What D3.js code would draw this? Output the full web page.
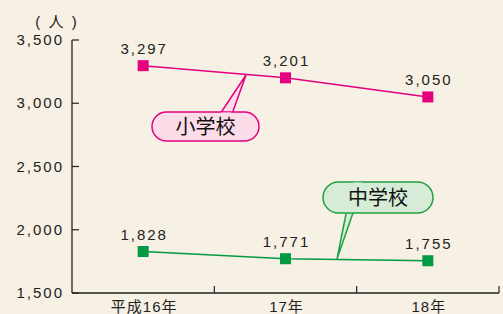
<!DOCTYPE html>
<html>
<head>
<meta charset="utf-8">
<script src="https://cdn.jsdelivr.net/npm/d3@7"></script>
<style>
  body { margin: 0; background: #f7f0e4; }
  svg { display: block; font-family: "Liberation Sans", "Noto Sans CJK JP", sans-serif; }
  .num { font-size: 15px; letter-spacing: 2px; fill: #222; }
</style>
</head>
<body>
<svg id="chart" width="503" height="314"></svg>
<script>
// data
const years = ['平成16年', '17年', '18年'];
const elementary = [3297, 3201, 3050];
const juniorHigh = [1828, 1771, 1755];
const yTicks = [1500, 2000, 2500, 3000, 3500];

const svg = d3.select('#chart');
const plotLeft = 72, plotRight = 499, plotTop = 40, plotBottom = 293;

const x = d3.scaleBand().domain(years).range([plotLeft, plotRight]);
const y = d3.scaleLinear().domain([1500, 3500]).range([plotBottom, plotTop]);
const cx = d => x(d) + x.bandwidth() / 2;
const fmt = d3.format(',');

// axes
svg.append('line').attr('x1', plotLeft).attr('x2', plotLeft).attr('y1', plotTop).attr('y2', plotBottom)
    .attr('stroke', '#222').attr('stroke-width', 1.3);
svg.append('line').attr('x1', plotLeft).attr('x2', plotRight).attr('y1', plotBottom).attr('y2', plotBottom)
    .attr('stroke', '#222').attr('stroke-width', 1.3);

yTicks.forEach(t => {
    svg.append('line').attr('x1', plotLeft).attr('x2', plotLeft + 7).attr('y1', y(t)).attr('y2', y(t))
        .attr('stroke', '#222').attr('stroke-width', 1.2);
    svg.append('text').classed('num', true).attr('x', 64).attr('y', y(t) + 5)
        .attr('text-anchor', 'end').text(fmt(t));
});
years.forEach(c => {
    let xe = x(c) + x.bandwidth();
    svg.append('line').attr('x1', xe).attr('x2', xe).attr('y1', plotBottom).attr('y2', plotBottom - 7)
        .attr('stroke', '#222').attr('stroke-width', 1.2);
    svg.append('text').classed('num', true).attr('x', cx(c) + 1).attr('y', 312)
        .attr('text-anchor', 'middle').style('letter-spacing', '1px').text(c);
});

svg.append('text').attr('x', 57).attr('y', 27).attr('text-anchor', 'middle')
    .style('font-size', '15px').attr('fill', '#222').style('letter-spacing', '2px').text('( 人 )');

// series
let drawSeries = (data, color) => {
    let line = d3.line().x((d, i) => cx(years[i])).y(d => y(d));
    svg.append('path').attr('d', line(data)).attr('fill', 'none').attr('stroke', color).attr('stroke-width', 1.6);
    data.forEach((d, i) => {
        svg.append('rect').attr('x', cx(years[i]) - 5.5).attr('y', y(d) - 5.5)
            .attr('width', 11).attr('height', 11).attr('fill', color);
        svg.append('text').classed('num', true).attr('x', cx(years[i]) + 1).attr('y', y(d) - 12)
            .attr('text-anchor', 'middle').text(fmt(d));
    });
};
drawSeries(elementary, '#e4007f');
drawSeries(juniorHigh, '#009a44');

// callouts
let callout = (label, bx, by, bw, bh, tail, stroke, fill) => {
    svg.append('path')
        .attr('d', 'M' + tail[0] + ',' + (by + 2) + 'L' + tail[2] + ',' + tail[3] + 'L' + tail[1] + ',' + (by + 2))
        .attr('fill', fill).attr('stroke', stroke).attr('stroke-width', 1.5).attr('stroke-linejoin', 'round');
    svg.append('rect').attr('x', bx).attr('y', by).attr('width', bw).attr('height', bh)
        .attr('rx', bh / 2).attr('ry', bh / 2)
        .attr('fill', fill).attr('stroke', stroke).attr('stroke-width', 1.5);
    svg.append('path')
        .attr('d', 'M' + (tail[0] + 1) + ',' + (by + 2) + 'L' + (tail[1] - 1) + ',' + (by + 2))
        .attr('stroke', fill).attr('stroke-width', 3);
    svg.append('text').attr('x', bx + bw / 2).attr('y', by + bh / 2 + 7).attr('text-anchor', 'middle')
        .style('font-size', '20px').style('font-family', '"Noto Sans CJK JP", sans-serif')
        .attr('fill', '#111').text(label);
};
callout('小学校', 152, 112, 107, 29, [220, 232, 246, 75], '#e4007f', '#fbdce8');
callout('中学校', 323, 182, 110, 31, [352, 363, 337, 259], '#1fa044', '#d6ecd6');
</script>
</body>
</html>
